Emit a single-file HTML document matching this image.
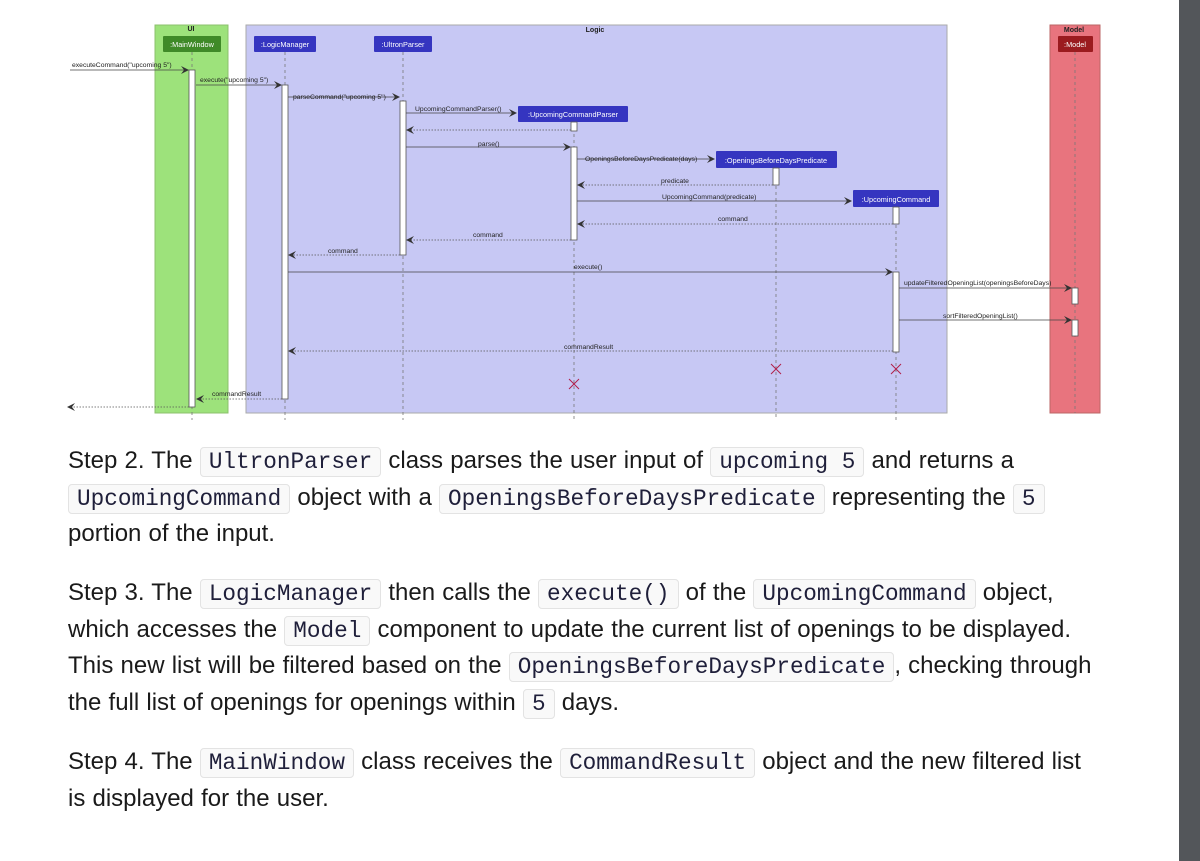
<!DOCTYPE html>
<html><head><meta charset="utf-8">
<style>
html,body{margin:0;padding:0;background:#fff;width:1200px;height:861px;overflow:hidden;position:relative}
.sb{position:absolute;left:1179px;top:0;width:21px;height:861px;background:#53565a}
p{position:absolute;left:68px;margin:0;font-family:"Liberation Sans",sans-serif;font-size:24px;line-height:36.5px;color:#1a1a1a;white-space:nowrap;word-spacing:0.5px}
code{font-family:"Liberation Mono",monospace;font-size:22.7px;line-height:20px;background:#f9f9f9;border:1px solid #e3e3e3;border-radius:4px;padding:1px 8px;color:#1f1f3a;word-spacing:0}
svg text{font-family:"Liberation Sans",sans-serif}
</style></head><body>
<svg width="1200" height="430" style="position:absolute;left:0;top:0" xmlns="http://www.w3.org/2000/svg">
<defs><marker id="a" markerWidth="8" markerHeight="8" refX="7" refY="4" orient="auto" markerUnits="userSpaceOnUse"><path d="M0,0 L8,4 L0,8 L3,4z" fill="#333"/></marker></defs>
<rect x="155" y="25" width="73" height="388" fill="#9de27b" stroke="#8cc06c"/>
<rect x="246" y="25" width="701" height="388" fill="#c7c8f4" stroke="#aaa"/>
<rect x="1050" y="25" width="50" height="388" fill="#e8747e" stroke="#b66"/>
<g font-size="7" font-weight="bold" fill="#222" text-anchor="middle">
<text x="191" y="31">UI</text><text x="595" y="32">Logic</text><text x="1074" y="32">Model</text></g>
<g stroke="#777" stroke-dasharray="3,3" stroke-width="0.8">
<line x1="192" y1="52" x2="192" y2="420"/><line x1="285" y1="52" x2="285" y2="420"/><line x1="403" y1="52" x2="403" y2="420"/>
<line x1="574" y1="122" x2="574" y2="420"/><line x1="776" y1="168" x2="776" y2="420"/><line x1="896" y1="207" x2="896" y2="420"/><line x1="1075" y1="52" x2="1075" y2="413"/></g>
<g font-size="7.3" fill="#fff" text-anchor="middle">
<rect x="163" y="36" width="58" height="16" fill="#3f8a28" rx="1"/><text x="192" y="47">:MainWindow</text>
<rect x="254" y="36" width="62" height="16" fill="#3535c0" rx="1"/><text x="285" y="47">:LogicManager</text>
<rect x="374" y="36" width="58" height="16" fill="#3535c0" rx="1"/><text x="403" y="47">:UltronParser</text>
<rect x="518" y="106" width="110" height="16" fill="#3535c0" rx="1"/><text x="573" y="117">:UpcomingCommandParser</text>
<rect x="716" y="151" width="121" height="17" fill="#3535c0" rx="1"/><text x="776" y="163">:OpeningsBeforeDaysPredicate</text>
<rect x="853" y="190" width="86" height="17" fill="#3535c0" rx="1"/><text x="896" y="202">:UpcomingCommand</text>
<rect x="1058" y="36" width="35" height="16" fill="#9b1b1f" rx="1"/><text x="1075" y="47">:Model</text></g>
<g fill="#fff" stroke="#555" stroke-width="0.8">
<rect x="189" y="70" width="6" height="337"/><rect x="282" y="85" width="6" height="314"/><rect x="400" y="101" width="6" height="154"/>
<rect x="571" y="122" width="6" height="9"/><rect x="571" y="147" width="6" height="93"/><rect x="773" y="168" width="6" height="17"/>
<rect x="893" y="207" width="6" height="17"/><rect x="893" y="272" width="6" height="80"/><rect x="1072" y="288" width="6" height="16"/><rect x="1072" y="320" width="6" height="16"/></g>
<g stroke="#444" stroke-width="0.8" fill="none" marker-end="url(#a)">
<line x1="70" y1="70" x2="188" y2="70"/><line x1="196" y1="85" x2="281" y2="85"/><line x1="288" y1="97" x2="399" y2="97"/>
<line x1="406" y1="113" x2="516" y2="113"/><line x1="406" y1="147" x2="570" y2="147"/><line x1="577" y1="159" x2="714" y2="159"/>
<line x1="577" y1="201" x2="851" y2="201"/><line x1="288" y1="272" x2="892" y2="272"/><line x1="899" y1="288" x2="1071" y2="288"/><line x1="899" y1="320" x2="1071" y2="320"/></g>
<g stroke="#555" stroke-width="0.8" stroke-dasharray="1.5,1.5" fill="none" marker-end="url(#a)">
<line x1="571" y1="130" x2="407" y2="130"/><line x1="773" y1="185" x2="578" y2="185"/><line x1="893" y1="224" x2="578" y2="224"/>
<line x1="571" y1="240" x2="407" y2="240"/><line x1="400" y1="255" x2="289" y2="255"/><line x1="893" y1="351" x2="289" y2="351"/>
<line x1="282" y1="399" x2="197" y2="399"/><line x1="189" y1="407" x2="68" y2="407"/></g>
<g font-size="6.8" fill="#222">
<text x="72" y="67">executeCommand("upcoming 5")</text><text x="200" y="82">execute("upcoming 5")</text>
<text x="293" y="99">parseCommand("upcoming 5")</text><text x="415" y="111">UpcomingCommandParser()</text>
<text x="478" y="146">parse()</text><text x="585" y="161">OpeningsBeforeDaysPredicate(days)</text>
<text x="661" y="183">predicate</text><text x="662" y="199">UpcomingCommand(predicate)</text><text x="718" y="221">command</text>
<text x="473" y="237">command</text><text x="328" y="253">command</text><text x="574" y="269">execute()</text>
<text x="904" y="285">updateFilteredOpeningList(openingsBeforeDays)</text><text x="943" y="318">sortFilteredOpeningList()</text>
<text x="564" y="349">commandResult</text><text x="212" y="396">commandResult</text></g>
<g stroke="#b0204a" stroke-width="1"><path d="M569,379 l10,10 M579,379 l-10,10"/><path d="M771,364 l10,10 M781,364 l-10,10"/><path d="M891,364 l10,10 M901,364 l-10,10"/></g>
</svg>
<p style="top:443px">Step 2. The <code>UltronParser</code> class parses the user input of <code>upcoming 5</code> and returns a<br><code>UpcomingCommand</code> object with a <code>OpeningsBeforeDaysPredicate</code> representing the <code>5</code><br>portion of the input.</p>
<p style="top:575px">Step 3. The <code>LogicManager</code> then calls the <code>execute()</code> of the <code>UpcomingCommand</code> object,<br>which accesses the <code>Model</code> component to update the current list of openings to be displayed.<br>This new list will be filtered based on the <code>OpeningsBeforeDaysPredicate</code>, checking through<br>the full list of openings for openings within <code>5</code> days.</p>
<p style="top:744px">Step 4. The <code>MainWindow</code> class receives the <code>CommandResult</code> object and the new filtered list<br>is displayed for the user.</p>
<div class="sb"></div>
</body></html>
